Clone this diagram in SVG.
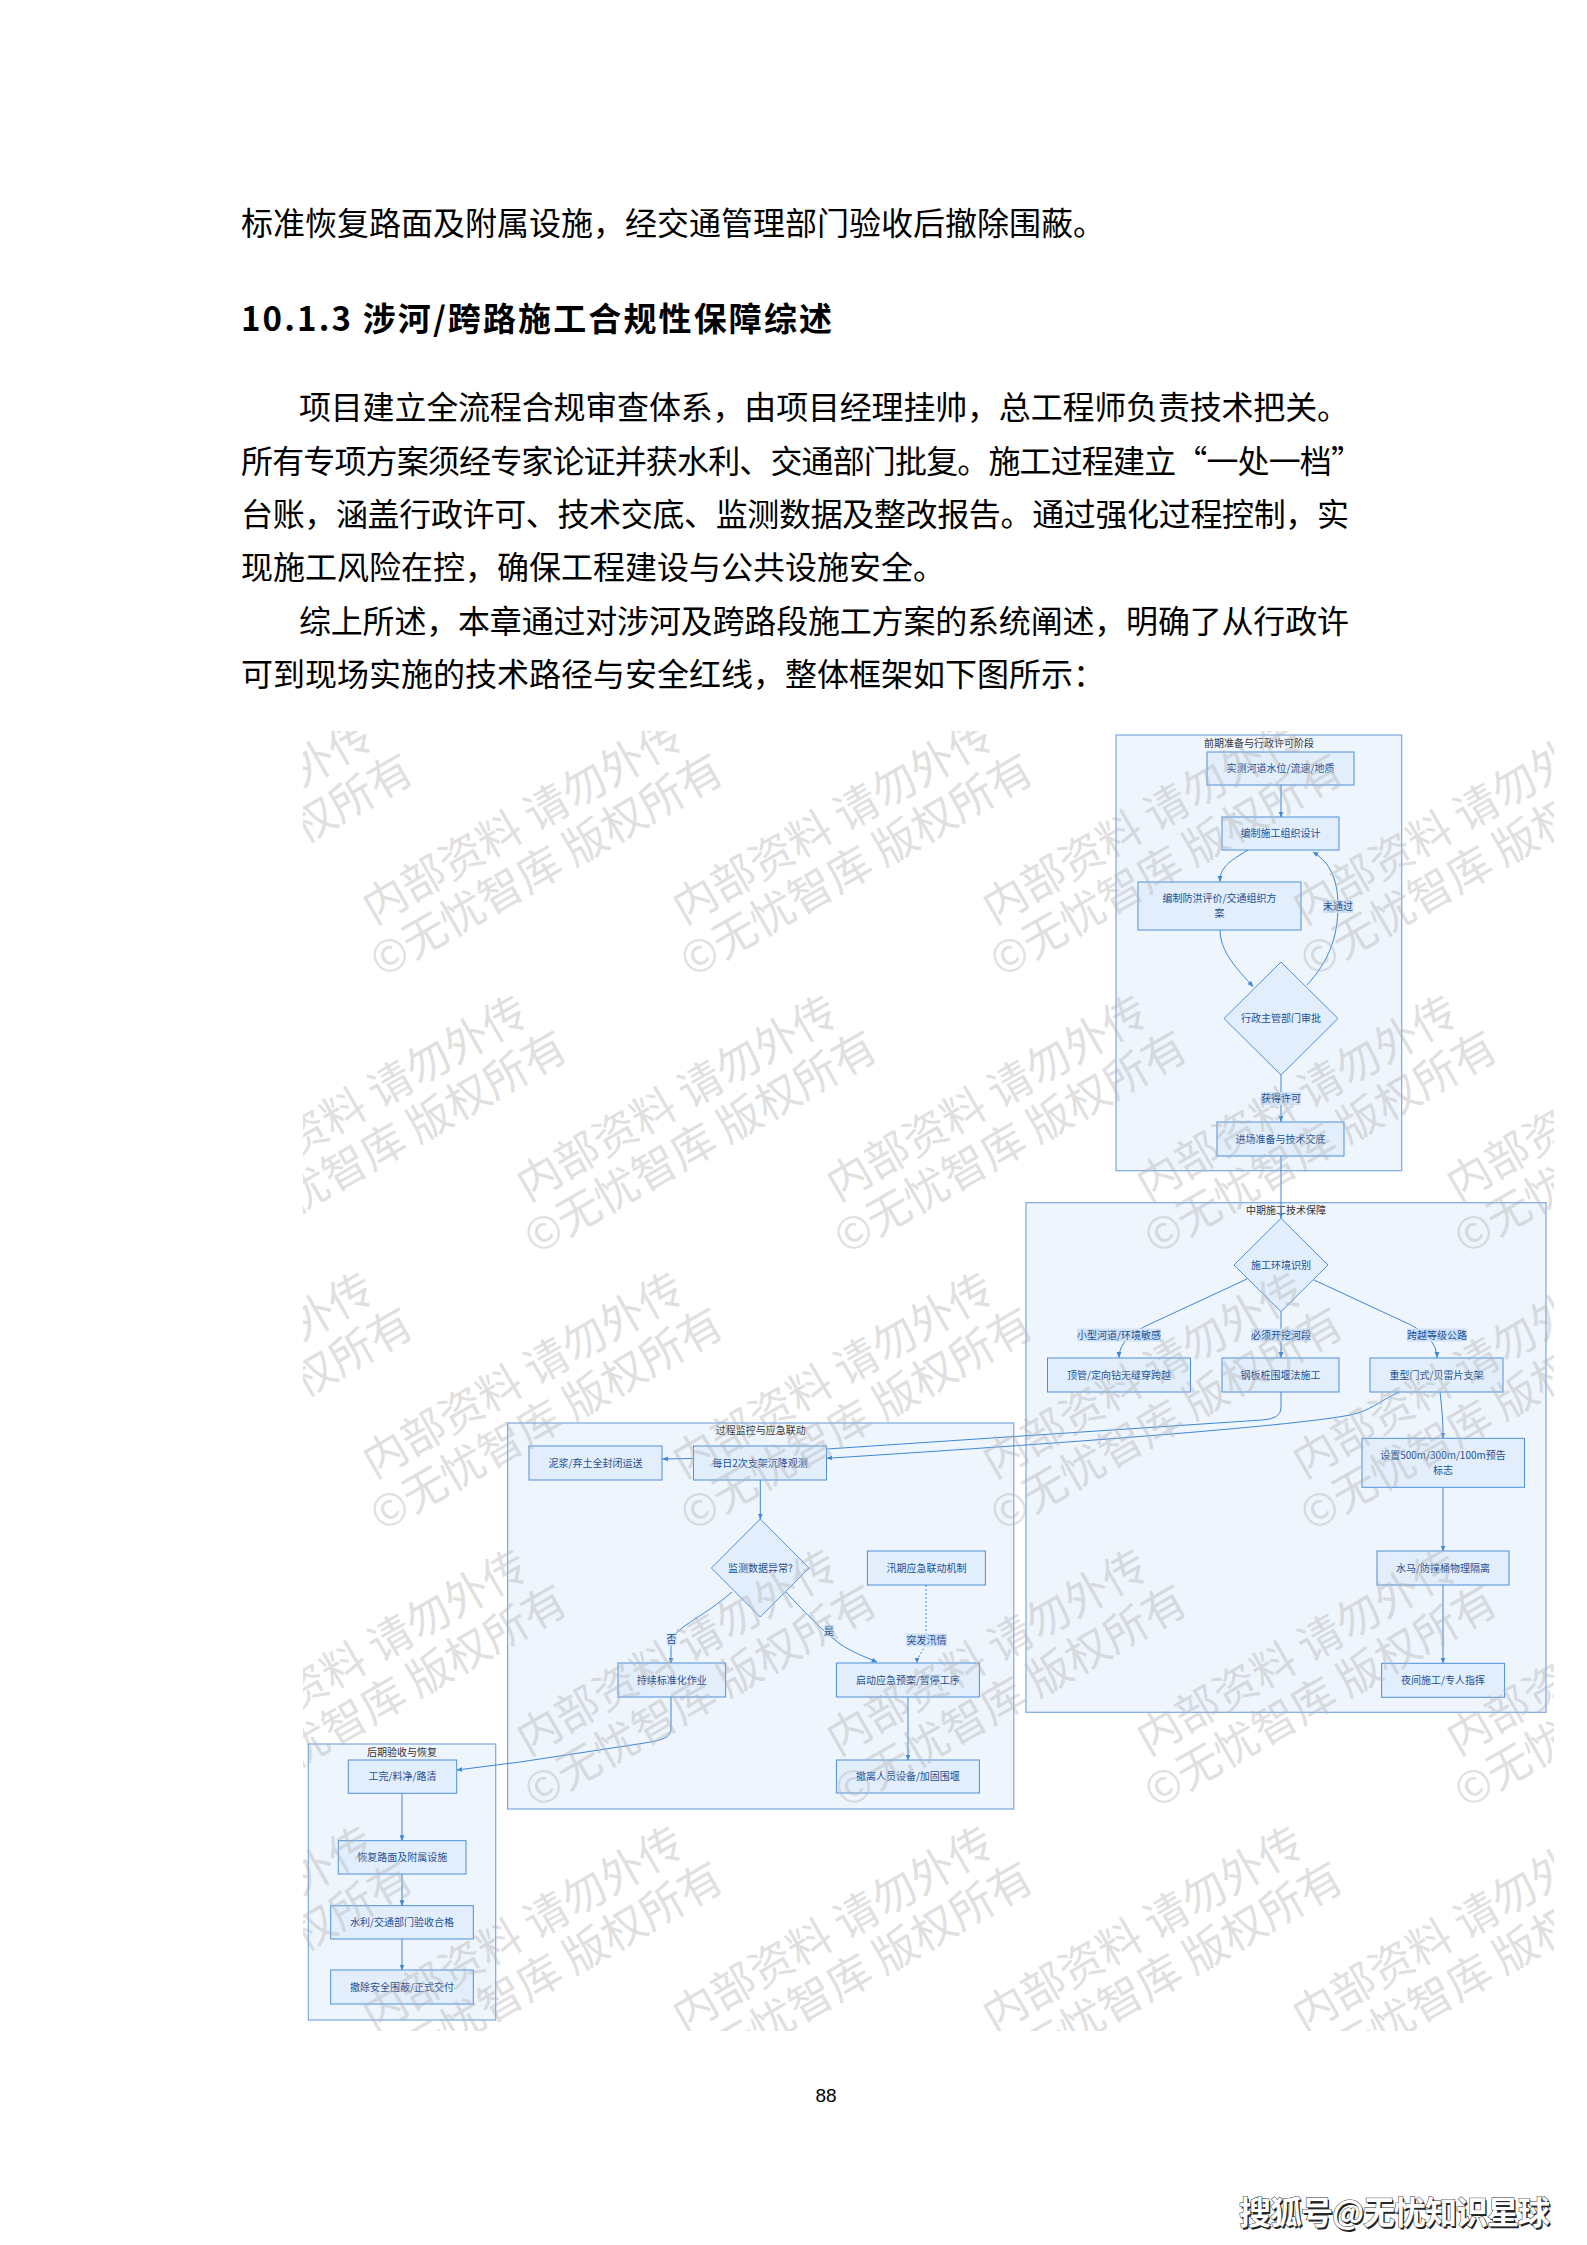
<svg xmlns="http://www.w3.org/2000/svg" xmlns:xlink="http://www.w3.org/1999/xlink" width="1587" height="2245" viewBox="0 0 1587 2245">
<style>
.body{font-family:"Noto Sans CJK SC","Liberation Serif",sans-serif;font-size:32px;fill:#000}
.head{font-family:"Noto Sans CJK SC","Liberation Sans",sans-serif;font-size:33px;font-weight:700;fill:#000}
.grp{fill:#eef5fd;stroke:#7aa8e0;stroke-width:1.2}
.gt{font-family:"Noto Sans CJK SC","Liberation Sans",sans-serif;font-size:10px;fill:#333;text-anchor:middle}
.box{fill:#e2eefb;stroke:#4d90dc;stroke-width:1}
.bt{font-family:"Noto Sans CJK SC","Liberation Sans",sans-serif;font-size:10px;fill:#1e4f93;text-anchor:middle}
.edge{fill:none;stroke:#3c87d8;stroke-width:1}
.dot{stroke-dasharray:2,2}
.lb{fill:#cfe1f7}
.wm{font-family:"Noto Sans CJK SC",sans-serif;font-size:44px;fill:#b4b4b4;fill-opacity:0.42}
</style>
<defs>
<marker id="arr" viewBox="0 0 10 10" refX="9" refY="5" markerWidth="6" markerHeight="6" markerUnits="userSpaceOnUse" orient="auto">
<path d="M0,1 L10,5 L0,9 z" fill="#3c87d8"/>
</marker>
<g id="wm" class="wm"><text x="0" y="0">内部资料 请勿外传</text><text x="-20" y="50">©无忧智库 版权所有</text></g>
<clipPath id="wmclip"><rect x="303" y="731" width="1251" height="1300"/></clipPath>
</defs>
<rect width="1587" height="2245" fill="#fff"/>

<g id="page-text">
<text class="body" x="241" y="235">标准恢复路面及附属设施，经交通管理部门验收后撤除围蔽。</text>
<text class="head" x="241" y="331" textLength="591" lengthAdjust="spacing">10.1.3 涉河/跨路施工合规性保障综述</text>
<text class="body" x="299" y="419" textLength="1050" lengthAdjust="spacing">项目建立全流程合规审查体系，由项目经理挂帅，总工程师负责技术把关。</text>
<text class="body" x="241" y="472.5" textLength="1122" lengthAdjust="spacing">所有专项方案须经专家论证并获水利、交通部门批复。施工过程建立“一处一档”</text>
<text class="body" x="241" y="526" textLength="1108" lengthAdjust="spacing">台账，涵盖行政许可、技术交底、监测数据及整改报告。通过强化过程控制，实</text>
<text class="body" x="241" y="579">现施工风险在控，确保工程建设与公共设施安全。</text>
<text class="body" x="299" y="632.5" textLength="1050" lengthAdjust="spacing">综上所述，本章通过对涉河及跨路段施工方案的系统阐述，明确了从行政许</text>
<text class="body" x="241" y="686">可到现场实施的技术路径与安全红线，整体框架如下图所示：</text>
</g>

<g id="clusters">
<g id="cluster-pre"><rect class="grp" x="1116" y="735" width="285.7" height="435.7"/><text class="gt" x="1259" y="746.5">前期准备与行政许可阶段</text></g>
<g id="cluster-mid"><rect class="grp" x="1026" y="1202.7" width="520" height="509.6"/><text class="gt" x="1286" y="1213.5">中期施工技术保障</text></g>
<g id="cluster-mon"><rect class="grp" x="507.6" y="1423" width="506.2" height="386"/><text class="gt" x="760.7" y="1433.5">过程监控与应急联动</text></g>
<g id="cluster-post"><rect class="grp" x="308.3" y="1744" width="187.4" height="276"/><text class="gt" x="402" y="1755.5">后期验收与恢复</text></g>
</g>

<g id="edges">
<path class="edge" marker-end="url(#arr)" d="M1281,785 L1281,817"/>
<path class="edge" marker-end="url(#arr)" d="M1248,850 C1228,862 1220,868 1220,881.5"/>
<path class="edge" marker-end="url(#arr)" d="M1220,930 C1220,952 1238,970 1253,986.5"/>
<path class="edge" marker-end="url(#arr)" d="M1307,985 C1328,962 1338,938 1338,906 C1338,874 1326,860 1313,852"/>
<path class="edge" marker-end="url(#arr)" d="M1281,1075 L1281,1121.5"/>
<path class="edge" marker-end="url(#arr)" d="M1281,1156 L1281,1218"/>
<path class="edge" marker-end="url(#arr)" d="M1247,1279 L1150,1324 Q1119,1338 1119,1357.5"/>
<path class="edge" marker-end="url(#arr)" d="M1281,1312 L1281,1357.5"/>
<path class="edge" marker-end="url(#arr)" d="M1314,1280 L1411,1325 Q1437,1338 1437,1357.5"/>
<path class="edge" d="M1281,1392 L1281,1408 Q1281,1419 1262,1420 L827,1449"/>
<path class="edge" marker-end="url(#arr)" d="M1399,1392 C1378,1402 1370,1411 1350,1415 C1300,1425 1100,1441 827,1458.3"/>
<path class="edge" marker-end="url(#arr)" d="M1440,1392 C1442,1410 1443,1420 1443,1438"/>
<path class="edge" marker-end="url(#arr)" d="M1443,1487.3 L1443,1551"/>
<path class="edge" marker-end="url(#arr)" d="M1443,1585 L1443,1663"/>
<path class="edge" marker-end="url(#arr)" d="M693.5,1458.5 L662.5,1459"/>
<path class="edge" marker-end="url(#arr)" d="M760.3,1480 L760.3,1519"/>
<path class="edge" marker-end="url(#arr)" d="M732,1592 C700,1620 671,1628 671,1645 L671,1663"/>
<path class="edge" marker-end="url(#arr)" d="M786,1592 C808,1616 822,1630 840,1644 C852,1652 865,1657 877,1662"/>
<path class="edge dot" marker-end="url(#arr)" d="M926,1585 L926,1640 C926,1650 917,1655 917,1663"/>
<path class="edge" marker-end="url(#arr)" d="M908,1697 L908,1760"/>
<path class="edge" marker-end="url(#arr)" d="M671,1697 L671,1728 C671,1738 662,1740 645,1743 L520,1762 L457,1770"/>
<path class="edge" marker-end="url(#arr)" d="M402,1793.3 L402,1840.7"/>
<path class="edge" marker-end="url(#arr)" d="M402,1874 L402,1905.7"/>
<path class="edge" marker-end="url(#arr)" d="M402,1939 L402,1970"/>
<g id="edge-labels">
<rect class="lb" x="1261" y="1092" width="40" height="13"/><text class="bt" x="1281" y="1102.3">获得许可</text>
<rect class="lb" x="1323" y="900" width="30" height="13"/><text class="bt" x="1338" y="910.3">未通过</text>
<rect class="lb" x="1077" y="1328.5" width="84" height="13"/><text class="bt" x="1119" y="1338.8">小型河道/环境敏感</text>
<rect class="lb" x="1251" y="1328.5" width="60" height="13"/><text class="bt" x="1281" y="1338.8">必须开挖河段</text>
<rect class="lb" x="1407" y="1328.5" width="60" height="13"/><text class="bt" x="1437" y="1338.8">跨越等级公路</text>
<rect class="lb" x="666.5" y="1633.5" width="10" height="12"/><text class="bt" x="671.5" y="1643.2">否</text>
<rect class="lb" x="824" y="1625" width="10" height="12"/><text class="bt" x="829" y="1634.7">是</text>
<rect class="lb" x="906" y="1633.5" width="41" height="13"/><text class="bt" x="926.5" y="1643.8">突发汛情</text>
</g>
</g>

<g id="nodes">
<g id="n1"><rect class="box" x="1207" y="752" width="147" height="33"/><text class="bt" x="1280.5" y="772">实测河道水位/流速/地质</text></g>
<g id="n2"><rect class="box" x="1222" y="817" width="117" height="33"/><text class="bt" x="1280.5" y="837">编制施工组织设计</text></g>
<g id="n3"><rect class="box" x="1138" y="882" width="163" height="48"/><text class="bt" x="1219.5" y="901.5">编制防洪评价/交通组织方</text><text class="bt" x="1219.5" y="916.5">案</text></g>
<g id="d1"><polygon class="box" points="1281,962 1338,1018.5 1281,1075 1224,1018.5"/><text class="bt" x="1281" y="1022">行政主管部门审批</text></g>
<g id="n4"><rect class="box" x="1217" y="1122" width="127" height="34"/><text class="bt" x="1280.5" y="1142.5">进场准备与技术交底</text></g>

<g id="d2"><polygon class="box" points="1281,1218.3 1328,1265 1281,1311.7 1234,1265"/><text class="bt" x="1281" y="1268.5">施工环境识别</text></g>
<g id="n5"><rect class="box" x="1047.5" y="1358" width="143" height="34"/><text class="bt" x="1119" y="1378.5">顶管/定向钻无缝穿跨越</text></g>
<g id="n6"><rect class="box" x="1222" y="1358" width="117" height="34"/><text class="bt" x="1280.5" y="1378.5">钢板桩围堰法施工</text></g>
<g id="n7"><rect class="box" x="1370" y="1358" width="133" height="34"/><text class="bt" x="1436.5" y="1378.5">重型门式/贝雷片支架</text></g>
<g id="n8"><rect class="box" x="1362" y="1438.3" width="162.5" height="49"/><text class="bt" x="1443" y="1459.2">设置500m/300m/100m预告</text><text class="bt" x="1443" y="1473.5">标志</text></g>
<g id="n9"><rect class="box" x="1377" y="1551" width="132" height="34"/><text class="bt" x="1443" y="1571.5">水马/防撞桶物理隔离</text></g>
<g id="n10"><rect class="box" x="1381.6" y="1663.3" width="123" height="34"/><text class="bt" x="1443" y="1684">夜间施工/专人指挥</text></g>

<g id="n11"><rect class="box" x="529" y="1446" width="133" height="34"/><text class="bt" x="595.5" y="1466.5">泥浆/弃土全封闭运送</text></g>
<g id="n12"><rect class="box" x="693.5" y="1446" width="133" height="34"/><text class="bt" x="760" y="1466.5">每日2次支架沉降观测</text></g>
<g id="d3"><polygon class="box" points="760.3,1519 809,1568 760.3,1617 711.4,1568"/><text class="bt" x="760.3" y="1571.5">监测数据异常?</text></g>
<g id="n13"><rect class="box" x="867.4" y="1551" width="118" height="34"/><text class="bt" x="926.4" y="1571.5">汛期应急联动机制</text></g>
<g id="n14"><rect class="box" x="618" y="1663" width="107.6" height="34"/><text class="bt" x="671.8" y="1683.5">持续标准化作业</text></g>
<g id="n15"><rect class="box" x="836.4" y="1663" width="143" height="34"/><text class="bt" x="907.9" y="1683.5">启动应急预案/暂停工序</text></g>
<g id="n16"><rect class="box" x="836.4" y="1760" width="143" height="33"/><text class="bt" x="907.9" y="1780">撤离人员设备/加固围堰</text></g>

<g id="n17"><rect class="box" x="348.3" y="1760" width="108.4" height="33.3"/><text class="bt" x="402.5" y="1780">工完/料净/路清</text></g>
<g id="n18"><rect class="box" x="338.3" y="1840.7" width="127.7" height="33.3"/><text class="bt" x="402.2" y="1861">恢复路面及附属设施</text></g>
<g id="n19"><rect class="box" x="330.7" y="1905.7" width="142.6" height="33.3"/><text class="bt" x="402" y="1926">水利/交通部门验收合格</text></g>
<g id="n20"><rect class="box" x="330.7" y="1970" width="142.6" height="34"/><text class="bt" x="402" y="1990.5">撤除安全围蔽/正式交付</text></g>
</g>

<g id="watermark" clip-path="url(#wmclip)">
<use href="#wm" transform="translate(64,925) rotate(-30)"/>
<use href="#wm" transform="translate(374,925) rotate(-30)"/>
<use href="#wm" transform="translate(684,925) rotate(-30)"/>
<use href="#wm" transform="translate(994,925) rotate(-30)"/>
<use href="#wm" transform="translate(1304,925) rotate(-30)"/>
<use href="#wm" transform="translate(218,1202) rotate(-30)"/>
<use href="#wm" transform="translate(528,1202) rotate(-30)"/>
<use href="#wm" transform="translate(838,1202) rotate(-30)"/>
<use href="#wm" transform="translate(1148,1202) rotate(-30)"/>
<use href="#wm" transform="translate(1458,1202) rotate(-30)"/>
<use href="#wm" transform="translate(64,1479) rotate(-30)"/>
<use href="#wm" transform="translate(374,1479) rotate(-30)"/>
<use href="#wm" transform="translate(684,1479) rotate(-30)"/>
<use href="#wm" transform="translate(994,1479) rotate(-30)"/>
<use href="#wm" transform="translate(1304,1479) rotate(-30)"/>
<use href="#wm" transform="translate(218,1756) rotate(-30)"/>
<use href="#wm" transform="translate(528,1756) rotate(-30)"/>
<use href="#wm" transform="translate(838,1756) rotate(-30)"/>
<use href="#wm" transform="translate(1148,1756) rotate(-30)"/>
<use href="#wm" transform="translate(1458,1756) rotate(-30)"/>
<use href="#wm" transform="translate(64,2033) rotate(-30)"/>
<use href="#wm" transform="translate(374,2033) rotate(-30)"/>
<use href="#wm" transform="translate(684,2033) rotate(-30)"/>
<use href="#wm" transform="translate(994,2033) rotate(-30)"/>
<use href="#wm" transform="translate(1304,2033) rotate(-30)"/>
</g>

<g id="footer">
<text x="826" y="2102" font-family="Liberation Sans, sans-serif" font-size="19" text-anchor="middle" fill="#000">88</text>
<text x="1240.5" y="2225.5" font-family="Noto Sans CJK SC, sans-serif" font-size="32" font-weight="700" fill="#222" textLength="311" lengthAdjust="spacing">搜狐号@无忧知识星球</text>
<text x="1239" y="2224" font-family="Noto Sans CJK SC, sans-serif" font-size="32" font-weight="700" fill="#fff" stroke="#333" stroke-width="1" paint-order="stroke" textLength="311" lengthAdjust="spacing">搜狐号@无忧知识星球</text>
</g>
</svg>
